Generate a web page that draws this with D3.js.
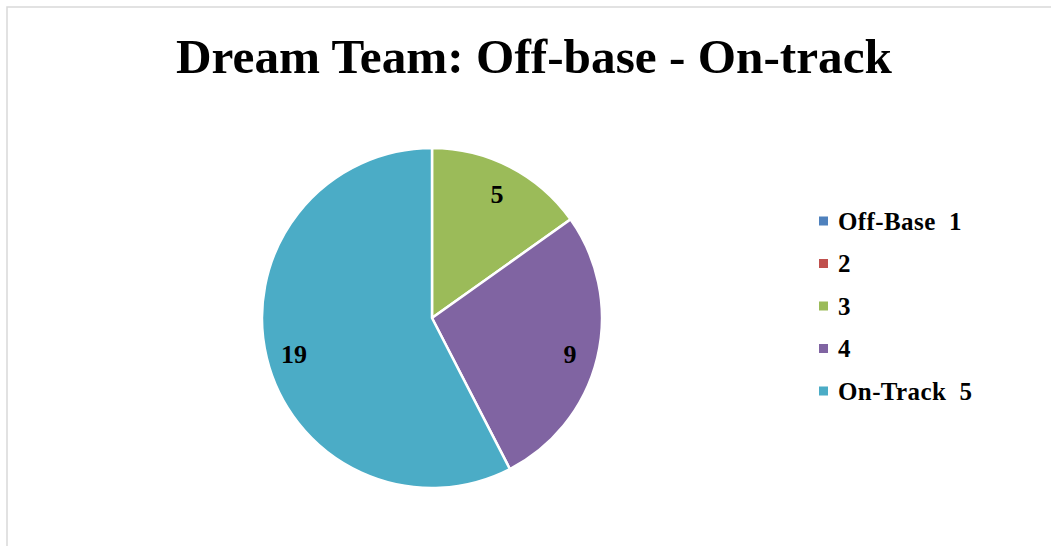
<!DOCTYPE html>
<head>
<meta charset="utf-8">
<script src="https://cdn.jsdelivr.net/npm/d3@7"></script>
<style>
  body { margin: 0; background: #fff; }
  svg { display: block; }
  text { font-family: "Liberation Serif", "DejaVu Serif", serif; font-weight: bold; fill: #000; }
</style>
</head>
<body>
<script>
var categories = ["Off-Base  1", "2", "3", "4", "On-Track  5"];
var values = [0, 0, 5, 9, 19];
var colors = ["#4F81BD", "#C0504D", "#9BBB59", "#8064A2", "#4BACC6"];
var title = "Dream Team: Off-base - On-track";

var width = 1051, height = 546;
var cx = 432, cy = 318, radius = 170;

var svg = d3.select("body").append("svg")
    .attr("width", width)
    .attr("height", height);

// chart area border
svg.append("rect")
    .attr("x", 7).attr("y", 7)
    .attr("width", width + 10).attr("height", height + 10)
    .attr("fill", "none")
    .attr("stroke", "#d9d9d9")
    .attr("stroke-width", 1.5);

svg.append("text")
    .attr("x", 534).attr("y", 73)
    .attr("text-anchor", "middle")
    .style("font-size", "49px")
    .attr("textLength", 716)
    .attr("lengthAdjust", "spacingAndGlyphs")
    .text(title);

var data = categories.map(function (c, i) { return {name: c, value: values[i], color: colors[i]}; });

var pie = d3.pie().sort(null).value(function (d) { return d.value; });
var arc = d3.arc().innerRadius(0).outerRadius(radius);
var labelArc = d3.arc().innerRadius(142).outerRadius(142);

var g = svg.append("g").attr("transform", "translate(" + cx + "," + cy + ")");

var arcs = pie(data);

g.selectAll("path").data(arcs).enter().append("path")
    .attr("d", arc)
    .attr("fill", function (d) { return d.data.color; })
    .attr("stroke", "#fff")
    .attr("stroke-width", function (d) { return d.value > 0 ? 2.5 : 0; });

g.selectAll(".label").data(arcs.filter(function (d) { return d.value > 0; }))
    .enter().append("text")
    .attr("class", "label")
    .attr("transform", function (d) { return "translate(" + labelArc.centroid(d) + ")"; })
    .attr("text-anchor", "middle")
    .attr("dy", "0.45em")
    .style("font-size", "26px")
    .text(function (d) { return d.value; });

var legendY = d3.scalePoint().domain(categories).range([221, 391]);

var legend = svg.selectAll(".legend").data(data).enter().append("g")
    .attr("class", "legend")
    .attr("transform", function (d) { return "translate(819," + legendY(d.name) + ")"; });

legend.append("rect")
    .attr("x", 0).attr("y", -4.5)
    .attr("width", 9).attr("height", 9)
    .attr("fill", function (d) { return d.color; });

legend.append("text")
    .attr("x", 19).attr("y", 0)
    .attr("dy", "0.35em")
    .style("font-size", "25px")
    .style("letter-spacing", "0.4px")
    .style("white-space", "pre")
    .text(function (d) { return d.name; });
</script>
</body>
